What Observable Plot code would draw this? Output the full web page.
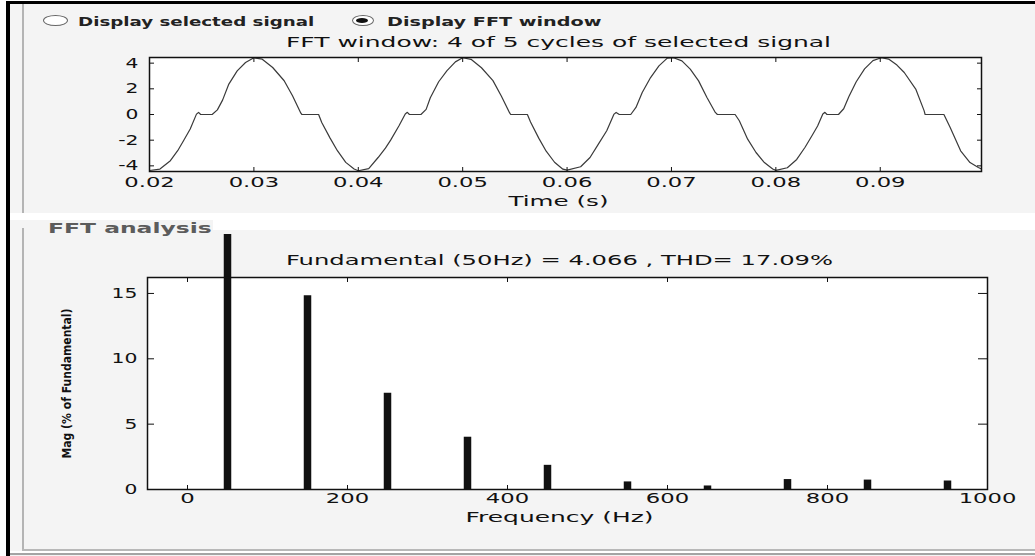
<!DOCTYPE html>
<html>
<head>
<meta charset="utf-8">
<script src="https://cdn.jsdelivr.net/npm/d3@7"></script>
<script src="https://cdn.jsdelivr.net/npm/@observablehq/plot@0.6"></script>
<style>
  html, body { margin: 0; padding: 0; }
  body { width: 1035px; height: 556px; position: relative; overflow: hidden; background: #ffffff;
         font-family: "DejaVu Sans", sans-serif; color: #111; }
  .abs { position: absolute; }
  .lbl { position: absolute; display: inline-block; white-space: nowrap; line-height: 1; transform-origin: left center; }
</style>
</head>
<body>
<!-- window decoration -->
<div class="abs" style="left:10px;top:4px;width:1025px;height:552px;background:#f4f4f4"></div>
<div class="abs" style="left:6px;top:1px;width:1029px;height:3px;background:#000"></div>
<div class="abs" style="left:6px;top:1px;width:4px;height:555px;background:#000"></div>
<div class="abs" style="left:22px;top:4px;width:2px;height:209px;background:#b4b4b4"></div>
<div class="abs" style="left:10px;top:213px;width:1025px;height:7px;background:#ffffff"></div>
<div class="abs" style="left:213px;top:219px;width:822px;height:11px;background:#ffffff"></div>
<div class="abs" style="left:22px;top:228px;width:2px;height:322px;background:#b4b4b4"></div>
<div class="abs" style="left:22px;top:549px;width:1013px;height:2px;background:#b8b8b8"></div>
<div class="abs" style="left:10px;top:551px;width:1025px;height:2px;background:#ffffff"></div>
<div class="abs" style="left:10px;top:553px;width:1025px;height:2px;background:#a4a4a4"></div>

<!-- radio buttons -->
<div class="abs" style="left:43px;top:15px;width:23px;height:9px;border:1px solid #666;border-radius:50%;background:#fff"></div>
<div class="abs" style="left:352px;top:15px;width:20px;height:9px;border:1px solid #666;border-radius:50%;background:#fff"></div>
<div class="abs" style="left:356px;top:18px;width:12px;height:5px;border-radius:50%;background:#111"></div>
<span class="lbl" data-w="237" style="left:78px;top:14.8px;font-size:13px;font-weight:bold;color:#222">Display selected signal</span>
<span class="lbl" data-w="214" style="left:387px;top:14.8px;font-size:13px;font-weight:bold;color:#222">Display FFT window</span>
<span class="lbl" data-w="164" style="left:48px;top:221.3px;font-size:14px;font-weight:bold;color:#5c5c5c">FFT analysis</span>

<div id="topChart" class="abs" style="left:0;top:0"></div>
<div id="bottomChart" class="abs" style="left:0;top:234px"></div>

<script>
// ---------- data: FFT window signal (4 cycles) ----------
const waveTime = [
  0.0200, 0.0210, 0.0220, 0.0227, 0.0233, 0.0239, 0.0245, 0.0247, 0.0249, 0.0260,
  0.0265, 0.0270, 0.0276, 0.0284, 0.0292, 0.0300, 0.0308, 0.0318, 0.0329, 0.0337,
  0.0345, 0.0346, 0.0362, 0.0365, 0.0373, 0.0380, 0.0388, 0.0396,
  0.0400, 0.0410, 0.0419, 0.0426, 0.0431, 0.0439, 0.0445, 0.0447, 0.0449, 0.0460,
  0.0465, 0.0469, 0.0477, 0.0485, 0.0493, 0.0500, 0.0508, 0.0518, 0.0529, 0.0537,
  0.0545, 0.0546, 0.0562, 0.0565, 0.0573, 0.0580, 0.0588, 0.0596,
  0.0600, 0.0613, 0.0622, 0.0630, 0.0638, 0.0645, 0.0647, 0.0650, 0.0661,
  0.0666, 0.0672, 0.0680, 0.0688, 0.0696, 0.0702, 0.0710, 0.0718, 0.0726, 0.0734,
  0.0742, 0.0744, 0.0761, 0.0765, 0.0773, 0.0781, 0.0789, 0.0797,
  0.0800, 0.0811, 0.0820, 0.0828, 0.0835, 0.0840, 0.0845, 0.0847, 0.0849, 0.0860,
  0.0865, 0.0870, 0.0877, 0.0885, 0.0893, 0.0901, 0.0908, 0.0916, 0.0923, 0.0934,
  0.0942, 0.0943, 0.0961, 0.0967, 0.0977, 0.0986, 0.0994, 0.0997
];
const waveValue = [
  -4.36, -4.25, -3.60, -2.82, -1.99, -1.13, 0.03, 0.16, 0.00, 0.00,
  0.36, 1.12, 2.37, 3.40, 4.05, 4.42, 4.31, 3.66, 2.63, 1.46,
  0.10, 0.00, 0.00, -0.62, -1.84, -2.82, -3.73, -4.25,
  -4.38, -4.22, -3.35, -2.62, -2.00, -0.88, 0.04, 0.17, 0.00, 0.00,
  0.40, 1.30, 2.55, 3.42, 4.10, 4.42, 4.30, 3.64, 2.64, 1.44,
  0.12, 0.00, 0.00, -0.58, -1.86, -2.86, -3.72, -4.26,
  -4.33, -4.07, -3.35, -2.31, -1.27, 0.03, 0.16, 0.00, 0.00,
  0.55, 1.71, 2.88, 3.79, 4.39, 4.42, 4.18, 3.54, 2.62, 1.32,
  0.16, 0.00, 0.00, -0.49, -1.92, -2.96, -3.74, -4.25,
  -4.35, -4.15, -3.50, -2.55, -1.60, -0.90, 0.04, 0.17, 0.00, 0.00,
  0.45, 1.40, 2.55, 3.55, 4.20, 4.42, 4.32, 3.85, 3.27, 1.98,
  0.30, 0.00, 0.00, -1.01, -2.83, -3.74, -4.13, -4.25
];
const timeTicks = [0.02, 0.03, 0.04, 0.05, 0.06, 0.07, 0.08, 0.09];
const voltTicks = [-4, -2, 0, 2, 4];

// ---------- data: FFT harmonic spectrum ----------
const harmonicFreq = [50, 150, 250, 350, 450, 550, 650, 750, 850, 950];
const harmonicMag  = [100, 14.83, 7.37, 4.0, 1.85, 0.58, 0.27, 0.76, 0.72, 0.65];
const freqTicks = [0, 200, 400, 600, 800, 1000];
const magTicks = [0, 5, 10, 15];

// ---------- texts ----------
const topTitle = "FFT window: 4 of 5 cycles of selected signal";
const timeLabel = "Time (s)";
const fundTitle = "Fundamental (50Hz) = 4.066 , THD= 17.09%";
const freqLabel = "Frequency (Hz)";
const magLabel = "Mag (% of Fundamental)";

const wave = waveTime.map((t, i) => ({t, v: waveValue[i]}));
const harmonics = harmonicFreq.map((f, i) => ({f, m: harmonicMag[i]}));
const plain = d => String(d);

const baseStyle = {
  fontFamily: "'DejaVu Sans', sans-serif",
  fontSize: "14px",
  background: "transparent",
  overflow: "hidden",
  color: "#111"
};

const topPlot = Plot.plot({
  width: 1035, height: 210,
  marginLeft: 149, marginRight: 54, marginTop: 57, marginBottom: 39,
  style: baseStyle,
  x: {domain: [0.02, 0.0997]},
  y: {domain: [-4.44, 4.44]},
  marks: [
    Plot.frame({fill: "white", stroke: "none"}),
    Plot.line(wave, {x: "t", y: "v", stroke: "#3a3a3a", strokeWidth: 1.2}),
    Plot.frame({stroke: "#111", strokeWidth: 1.5}),
    Plot.axisX(timeTicks, {anchor: "bottom", tickSize: -4, tickPadding: 10, tickFormat: d => d.toFixed(2), label: null, stroke: "#111"}),
    Plot.axisX(timeTicks, {anchor: "top", tickSize: -4, fill: "none", label: null, stroke: "#111"}),
    Plot.axisY(voltTicks, {anchor: "left", tickSize: -5, tickPadding: 16, tickFormat: plain, label: null, stroke: "#111"}),
    Plot.axisY(voltTicks, {anchor: "right", tickSize: -5, fill: "none", label: null, stroke: "#111"}),
    Plot.text([topTitle], {frameAnchor: "top", lineAnchor: "middle", textAnchor: "middle", dy: -15, dx: -7, fill: "#111"}),
    Plot.text([timeLabel], {frameAnchor: "bottom", lineAnchor: "middle", textAnchor: "middle", dy: 30, dx: -7, fill: "#111"})
  ]
});

const bottomPlot = Plot.plot({
  width: 1035, height: 314,
  marginLeft: 147, marginRight: 48, marginTop: 43, marginBottom: 59,
  style: baseStyle,
  x: {domain: [-50, 1000]},
  y: {domain: [0, 16.22]},
  marks: [
    Plot.frame({fill: "white", stroke: "none"}),
    Plot.ruleX(harmonics, {x: "f", y1: 0, y2: "m", stroke: "#111", strokeWidth: 7.5}),
    Plot.frame({stroke: "#111", strokeWidth: 1.5}),
    Plot.axisX(freqTicks, {anchor: "bottom", tickSize: -4, tickPadding: 8, tickFormat: plain, label: null, stroke: "#111"}),
    Plot.axisX(freqTicks, {anchor: "top", tickSize: -4, fill: "none", label: null, stroke: "#111"}),
    Plot.axisY(magTicks, {anchor: "left", tickSize: -7, tickPadding: 17, tickFormat: plain, label: null, stroke: "#111"}),
    Plot.axisY(magTicks, {anchor: "right", tickSize: -10, fill: "none", label: null, stroke: "#111"}),
    Plot.text([fundTitle], {frameAnchor: "top", lineAnchor: "middle", textAnchor: "middle", dy: -17, dx: -8, fill: "#111"}),
    Plot.text([freqLabel], {frameAnchor: "bottom", lineAnchor: "middle", textAnchor: "middle", dy: 28, dx: -8, fill: "#111"}),
    Plot.text([magLabel], {frameAnchor: "left", lineAnchor: "middle", textAnchor: "middle", dx: -80, rotate: -90, fontWeight: "bold", fontSize: 12, fill: "#111"})
  ]
});

document.getElementById("topChart").appendChild(topPlot);
document.getElementById("bottomChart").appendChild(bottomPlot);

// horizontally stretched lettering, as in the original screenshot
const targets = new Map([
  [topTitle, 545], [timeLabel, 100], [fundTitle, 547], [freqLabel, 188], [magLabel, 150]
]);
function stretch(svg) {
  svg.querySelectorAll("text").forEach(t => {
    const s = t.textContent;
    if (!s) return;
    const L = t.getComputedTextLength();
    if (!L) return;
    let w;
    if (targets.has(s)) w = targets.get(s);
    else {
      const g = t.closest("g[aria-label]");
      const lab = g ? g.getAttribute("aria-label") : "";
      w = L * (lab.startsWith("y") ? 1.45 : 1.62);
    }
    t.setAttribute("textLength", w.toFixed(1));
    t.setAttribute("lengthAdjust", "spacingAndGlyphs");
  });
}
stretch(topPlot);
stretch(bottomPlot);

document.querySelectorAll(".lbl").forEach(el => {
  const w = +el.dataset.w;
  el.style.transform = `scaleX(${(w / el.offsetWidth).toFixed(3)})`;
});
</script>
</body>
</html>
